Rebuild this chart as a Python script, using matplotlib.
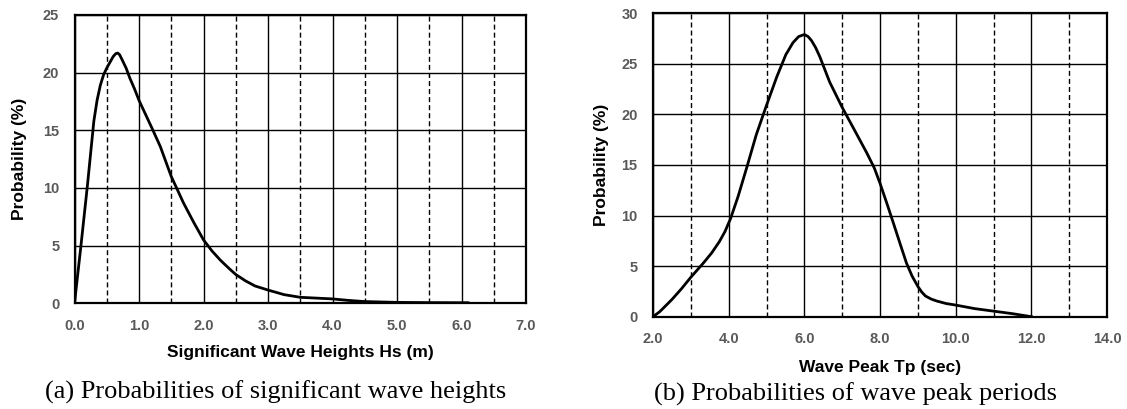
import matplotlib
matplotlib.use("Agg")
import matplotlib.pyplot as plt

# ---- data ----
hs = [0.0, 0.1, 0.2, 0.3, 0.35, 0.4, 0.45, 0.5, 0.55, 0.6, 0.64, 0.67, 0.7, 0.74, 0.8,
      0.86, 0.93, 1.0, 1.1, 1.2, 1.33, 1.5, 1.69, 1.85,
      2.0, 2.13, 2.26, 2.4, 2.5, 2.65, 2.8, 3.0, 3.25, 3.5, 3.75, 4.0, 4.25, 4.5, 5.0, 5.5, 6.0, 6.1]
hs_prob = [0.0, 5.0, 10.2, 15.8, 17.6, 18.9, 19.8, 20.4, 20.9, 21.4, 21.65, 21.7, 21.55, 21.1, 20.4,
           19.5, 18.6, 17.6, 16.4, 15.2, 13.6, 11.0, 8.7, 7.0,
           5.5, 4.55, 3.75, 3.0, 2.5, 1.95, 1.5, 1.15, 0.75, 0.52, 0.45, 0.38, 0.25, 0.15, 0.08, 0.06, 0.05, 0.05]

tp = [2.0, 2.18, 2.5, 2.75, 3.0, 3.33, 3.55, 3.75, 3.9, 4.05, 4.25, 4.49, 4.73, 5.0, 5.27, 5.51, 5.7, 5.85, 6.0,
      6.1, 6.19, 6.3, 6.41, 6.67, 7.0, 7.29, 7.65, 7.85, 8.0, 8.2, 8.35, 8.55, 8.7, 8.85, 9.0,
      9.1, 9.2, 9.35, 9.5, 9.75, 10.0, 10.5, 11.0, 11.5, 12.0]
tp_prob = [0.0, 0.5, 1.7, 2.75, 3.9, 5.3, 6.3, 7.4, 8.4, 9.7, 11.9, 14.9, 18.0, 20.9, 23.7, 25.9, 27.1, 27.7, 27.9,
           27.7, 27.3, 26.6, 25.7, 23.2, 20.7, 18.7, 16.2, 14.7, 13.2, 11.0, 9.3, 7.0, 5.3, 4.0, 3.0,
           2.45, 2.05, 1.75, 1.55, 1.3, 1.15, 0.8, 0.55, 0.3, 0.0]

hs_ticks = [0.0, 1.0, 2.0, 3.0, 4.0, 5.0, 6.0, 7.0]
hs_minor = [0.5, 1.5, 2.5, 3.5, 4.5, 5.5, 6.5]
hs_yticks = [0, 5, 10, 15, 20, 25]
tp_ticks = [2.0, 4.0, 6.0, 8.0, 10.0, 12.0, 14.0]
tp_minor = [3.0, 5.0, 7.0, 9.0, 11.0, 13.0]
tp_yticks = [0, 5, 10, 15, 20, 25, 30]

W, H = 1127, 409
fig = plt.figure(figsize=(W / 100, H / 100), dpi=100)

def px_axes(x0, y0, x1, y1):
    return fig.add_axes([x0 / W, 1 - y1 / H, (x1 - x0) / W, (y1 - y0) / H])

tick_color = "#595959"
sans = "Liberation Sans"
serif = "Liberation Serif"

def style(ax, xt, xm, yt, xlabel, ylabel, caption, xlab_y, ylab_x, cap_x, cap_y):
    ax.set_xticks(xt)
    ax.set_xticks(xm, minor=True)
    ax.set_yticks(yt)
    ax.set_xlim(xt[0], xt[-1])
    ax.set_ylim(yt[0], yt[-1])
    ax.set_xticklabels([f"{v:.1f}" for v in xt])
    ax.set_yticklabels([str(v) for v in yt])
    ax.tick_params(axis="both", which="both", length=0)
    ax.tick_params(axis="x", pad=11)
    ax.tick_params(axis="y", pad=11)
    for lab in ax.get_xticklabels() + ax.get_yticklabels():
        lab.set_fontfamily(sans)
        lab.set_fontweight("bold")
        lab.set_fontsize(10.5)
        lab.set_color(tick_color)
    ax.grid(True, which="major", axis="both", color="black", linewidth=1.0)
    ax.grid(True, which="minor", axis="x", color="black", linewidth=1.0,
            linestyle=(0, (3.6, 2.2)))
    ax.set_axisbelow(True)
    for s in ax.spines.values():
        s.set_linewidth(1.6)
        s.set_color("black")
    ax.set_xlabel(xlabel, fontfamily=sans, fontweight="bold", fontsize=12.5, va="center")
    ax.xaxis.set_label_coords(0.5, xlab_y)
    ax.set_ylabel(ylabel, fontfamily=sans, fontweight="bold", fontsize=12.5, va="center")
    ax.yaxis.set_label_coords(ylab_x, 0.5)
    fig.text(cap_x / W, 1 - cap_y / H, caption, fontfamily=serif, fontsize=19,
             ha="center", va="center")

ax1 = px_axes(74.5, 15, 526, 303.3)
ax1.plot(hs, hs_prob, color="black", linewidth=2.0)
style(ax1, hs_ticks, hs_minor, hs_yticks, "Significant Wave Heights Hs (m)",
      "Probability (%)", "(a) Probabilities of significant wave heights",
      -0.169, -0.1214, 276, 392)

ax2 = px_axes(653, 13.3, 1107, 316.7)
ax2.plot(tp, tp_prob, color="black", linewidth=2.0)
style(ax2, tp_ticks, tp_minor, tp_yticks, "Wave Peak Tp (sec)",
      "Probability (%)", "(b) Probabilities of wave peak periods",
      -0.166, -0.1132, 855, 394)

fig.savefig("out.png", dpi=100)
